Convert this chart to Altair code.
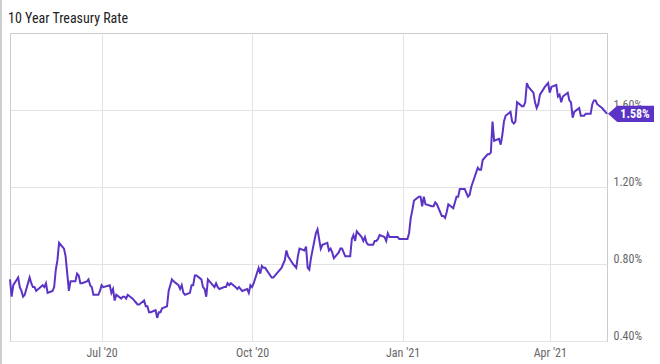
import altair as alt
import pandas as pd

dates = [
    "2020-05-06", "2020-05-07", "2020-05-08", "2020-05-11", "2020-05-12", "2020-05-13", "2020-05-14", "2020-05-15",
    "2020-05-18", "2020-05-19", "2020-05-20", "2020-05-21", "2020-05-22", "2020-05-26", "2020-05-27", "2020-05-28",
    "2020-05-29", "2020-06-01", "2020-06-02", "2020-06-03", "2020-06-04", "2020-06-05", "2020-06-08", "2020-06-09",
    "2020-06-10", "2020-06-11", "2020-06-12", "2020-06-15", "2020-06-16", "2020-06-17", "2020-06-18", "2020-06-19",
    "2020-06-22", "2020-06-23", "2020-06-24", "2020-06-25", "2020-06-26", "2020-06-29", "2020-06-30", "2020-07-01",
    "2020-07-02", "2020-07-06", "2020-07-07", "2020-07-08", "2020-07-09", "2020-07-10", "2020-07-13", "2020-07-14",
    "2020-07-15", "2020-07-16", "2020-07-17", "2020-07-20", "2020-07-21", "2020-07-22", "2020-07-23", "2020-07-24",
    "2020-07-27", "2020-07-28", "2020-07-29", "2020-07-30", "2020-07-31", "2020-08-03", "2020-08-04", "2020-08-05",
    "2020-08-06", "2020-08-07", "2020-08-10", "2020-08-11", "2020-08-12", "2020-08-13", "2020-08-14", "2020-08-17",
    "2020-08-18", "2020-08-19", "2020-08-20", "2020-08-21", "2020-08-24", "2020-08-25", "2020-08-26", "2020-08-27",
    "2020-08-28", "2020-08-31", "2020-09-01", "2020-09-02", "2020-09-03", "2020-09-04", "2020-09-08", "2020-09-09",
    "2020-09-10", "2020-09-11", "2020-09-14", "2020-09-15", "2020-09-16", "2020-09-17", "2020-09-18", "2020-09-21",
    "2020-09-22", "2020-09-23", "2020-09-24", "2020-09-25", "2020-09-28", "2020-09-29", "2020-09-30", "2020-10-01",
    "2020-10-02", "2020-10-05", "2020-10-06", "2020-10-07", "2020-10-08", "2020-10-09", "2020-10-13", "2020-10-14",
    "2020-10-15", "2020-10-16", "2020-10-19", "2020-10-20", "2020-10-21", "2020-10-22", "2020-10-23", "2020-10-26",
    "2020-10-27", "2020-10-28", "2020-10-29", "2020-10-30", "2020-11-02", "2020-11-03", "2020-11-04", "2020-11-05",
    "2020-11-06", "2020-11-09", "2020-11-10", "2020-11-12", "2020-11-13", "2020-11-16", "2020-11-17", "2020-11-18",
    "2020-11-19", "2020-11-20", "2020-11-23", "2020-11-24", "2020-11-25", "2020-11-27", "2020-11-30", "2020-12-01",
    "2020-12-02", "2020-12-03", "2020-12-04", "2020-12-07", "2020-12-08", "2020-12-09", "2020-12-10", "2020-12-11",
    "2020-12-14", "2020-12-15", "2020-12-16", "2020-12-17", "2020-12-18", "2020-12-21", "2020-12-22", "2020-12-23",
    "2020-12-24", "2020-12-28", "2020-12-29", "2020-12-30", "2020-12-31", "2021-01-04", "2021-01-05", "2021-01-06",
    "2021-01-07", "2021-01-08", "2021-01-11", "2021-01-12", "2021-01-13", "2021-01-14", "2021-01-15", "2021-01-19",
    "2021-01-20", "2021-01-21", "2021-01-22", "2021-01-25", "2021-01-26", "2021-01-27", "2021-01-28", "2021-01-29",
    "2021-02-01", "2021-02-02", "2021-02-03", "2021-02-04", "2021-02-05", "2021-02-08", "2021-02-09", "2021-02-10",
    "2021-02-11", "2021-02-12", "2021-02-16", "2021-02-17", "2021-02-18", "2021-02-19", "2021-02-22", "2021-02-23",
    "2021-02-24", "2021-02-25", "2021-02-26", "2021-03-01", "2021-03-02", "2021-03-03", "2021-03-04", "2021-03-05",
    "2021-03-08", "2021-03-09", "2021-03-10", "2021-03-11", "2021-03-12", "2021-03-15", "2021-03-16", "2021-03-17",
    "2021-03-18", "2021-03-19", "2021-03-22", "2021-03-23", "2021-03-24", "2021-03-25", "2021-03-26", "2021-03-29",
    "2021-03-30", "2021-03-31", "2021-04-01", "2021-04-02", "2021-04-05", "2021-04-06", "2021-04-07", "2021-04-08",
    "2021-04-09", "2021-04-12", "2021-04-13", "2021-04-14", "2021-04-15", "2021-04-16", "2021-04-19", "2021-04-20",
    "2021-04-21", "2021-04-22", "2021-04-23", "2021-04-26", "2021-04-27", "2021-04-28", "2021-04-29", "2021-04-30",
    "2021-05-03", "2021-05-04", "2021-05-05", "2021-05-06",
]

rates = [
    0.72, 0.63, 0.69, 0.73, 0.68, 0.66, 0.63, 0.64,
    0.73, 0.70, 0.68, 0.68, 0.66, 0.69, 0.68, 0.70,
    0.65, 0.66, 0.68, 0.77, 0.82, 0.91, 0.88, 0.84,
    0.75, 0.66, 0.71, 0.71, 0.75, 0.74, 0.70, 0.70,
    0.71, 0.72, 0.69, 0.68, 0.64, 0.64, 0.66, 0.69,
    0.68, 0.69, 0.65, 0.67, 0.61, 0.64, 0.62, 0.63,
    0.63, 0.62, 0.64, 0.62, 0.61, 0.60, 0.59, 0.59,
    0.61, 0.58, 0.58, 0.55, 0.55, 0.56, 0.52, 0.55,
    0.55, 0.57, 0.58, 0.66, 0.69, 0.72, 0.71, 0.69,
    0.67, 0.69, 0.65, 0.64, 0.65, 0.69, 0.69, 0.74,
    0.74, 0.72, 0.68, 0.67, 0.63, 0.72, 0.68, 0.70,
    0.68, 0.67, 0.68, 0.68, 0.70, 0.69, 0.70, 0.68,
    0.67, 0.68, 0.67, 0.66, 0.67, 0.65, 0.69, 0.68,
    0.70, 0.78, 0.75, 0.79, 0.78, 0.78, 0.73, 0.73,
    0.74, 0.75, 0.78, 0.80, 0.82, 0.87, 0.84, 0.80,
    0.79, 0.78, 0.84, 0.88, 0.87, 0.89, 0.78, 0.77,
    0.83, 0.96, 0.98, 0.88, 0.90, 0.91, 0.87, 0.88,
    0.86, 0.83, 0.86, 0.88, 0.88, 0.84, 0.84, 0.93,
    0.95, 0.92, 0.97, 0.94, 0.92, 0.94, 0.91, 0.90,
    0.90, 0.92, 0.92, 0.93, 0.95, 0.94, 0.92, 0.96,
    0.94, 0.94, 0.94, 0.93, 0.93, 0.93, 0.96, 1.04,
    1.08, 1.13, 1.15, 1.15, 1.10, 1.15, 1.11, 1.10,
    1.10, 1.12, 1.11, 1.05, 1.05, 1.04, 1.07, 1.11,
    1.09, 1.12, 1.15, 1.15, 1.19, 1.19, 1.17, 1.15,
    1.16, 1.20, 1.30, 1.29, 1.29, 1.34, 1.37, 1.37,
    1.38, 1.54, 1.44, 1.45, 1.42, 1.47, 1.54, 1.57,
    1.59, 1.54, 1.53, 1.54, 1.64, 1.62, 1.62, 1.64,
    1.74, 1.72, 1.69, 1.64, 1.61, 1.63, 1.68, 1.72,
    1.73, 1.74, 1.69, 1.72, 1.73, 1.67, 1.68, 1.64,
    1.67, 1.69, 1.65, 1.64, 1.56, 1.59, 1.61, 1.57,
    1.57, 1.57, 1.58, 1.58, 1.63, 1.65, 1.65, 1.63,
    1.61, 1.60, 1.59, 1.58,
]

y_ticks = [0.40, 0.80, 1.20, 1.60]
x_tick_dates = [(2020, 7, 1), (2020, 10, 1), (2021, 1, 1), (2021, 4, 1)]
title_text = ["10 Year Treasury Rate"]

PURPLE = "#5b34c6"
FONT = "Roboto Condensed, Liberation Sans Narrow, Roboto"

df = pd.DataFrame({"date": dates, "rate": rates})
last = df.tail(1).copy()

x_enc = alt.X(
    "date:T",
    scale=alt.Scale(domain=[alt.DateTime(year=2020, month=5, date=6),
                            alt.DateTime(year=2021, month=5, date=6)]),
    axis=alt.Axis(
        values=[alt.DateTime(year=y, month=m, date=d) for (y, m, d) in x_tick_dates],
        format="%b '%y", title=None, ticks=False, domain=False, grid=True,
        labelPadding=6, labelFontSize=12, labelColor="#666666", labelFont=FONT,
    ),
)
y_enc = alt.Y(
    "rate:Q",
    scale=alt.Scale(domain=[0.4, 2.0], nice=False, zero=False),
    axis=alt.Axis(
        orient="right", values=y_ticks, title=None, ticks=False, domain=False, grid=True,
        labelExpr="format(datum.value, '.2f') + '%'", labelPadding=6, labelFontSize=12,
        labelColor="#666666", labelFont=FONT, labelBaseline="bottom", labelOffset=1,
    ),
)

line = alt.Chart(df).mark_line(color=PURPLE, strokeWidth=2).encode(x=x_enc, y=y_enc)

tag_shape = "M-1,0 L-0.6,-0.35 L1,-0.35 L1,0.35 L-0.6,0.35 Z"
tag = alt.Chart(last).mark_point(
    shape=tag_shape, size=2116, filled=True, color=PURPLE, opacity=1, xOffset=24
).encode(x="date:T", y="rate:Q")

tag_text = alt.Chart(last).transform_calculate(
    label="format(datum.rate, '.2f') + '%'"
).mark_text(
    color="white", fontWeight="bold", fontSize=12, font=FONT, dx=28, baseline="middle", align="center"
).encode(x="date:T", y="rate:Q", text="label:N")

# thin grey frame line at the page's left edge
edge = alt.Chart(last).mark_rule(color="#cfcfcf", strokeWidth=2).encode(
    x=alt.value(-9), y=alt.value(-33), y2=alt.value(331)
)

title = alt.Chart(pd.DataFrame({"t": title_text})).mark_text(
    align="left", baseline="alphabetic", fontSize=14, font=FONT, color="#222222"
).encode(x=alt.value(-2), y=alt.value(-10), text="t:N")

chart = alt.layer(edge, line, tag, tag_text, title).properties(
    width=597,
    height=308,
    autosize=alt.AutoSizeParams(type="none"),
    padding={"left": 10, "top": 33, "right": 53, "bottom": 23},
    background="white",
).configure_view(
    stroke="#cccccc", strokeWidth=1
).configure_axis(
    gridColor="#e3e3e3", gridWidth=1
)

chart.save("out.html", embed_options={"renderer": "svg", "actions": False})
